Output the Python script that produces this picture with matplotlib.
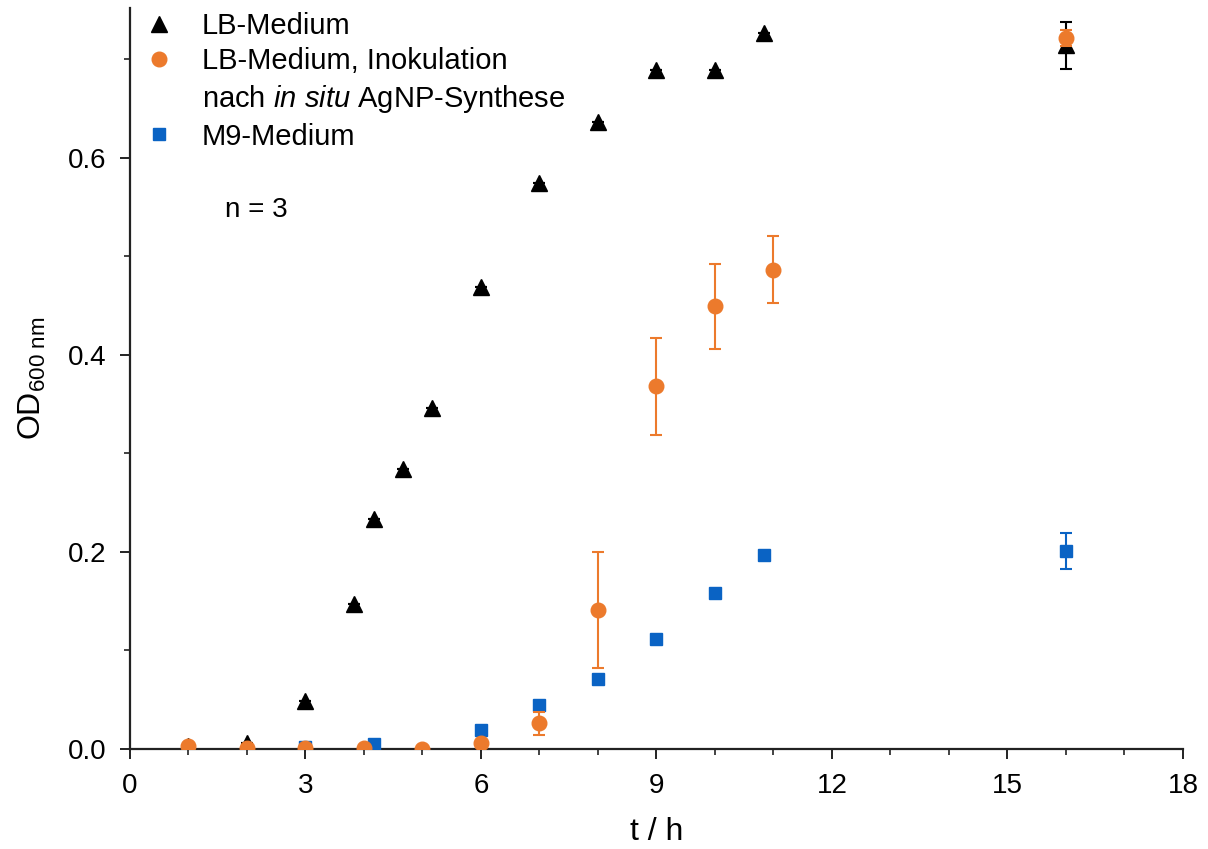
import numpy as np
import matplotlib
matplotlib.use("Agg")
from matplotlib import pyplot as plt
from matplotlib.lines import Line2D
from matplotlib.ticker import MultipleLocator, FormatStrFormatter

plt.rcParams["font.family"] = ["Liberation Sans", "DejaVu Sans"]
plt.rcParams["mathtext.fontset"] = "custom"
plt.rcParams["mathtext.rm"] = "Liberation Sans"
plt.rcParams["mathtext.it"] = "Liberation Sans:italic"

### LB-Medium
lb_t = [1, 2, 3, 3.83, 4.17, 4.67, 5.17, 6, 7, 8, 9, 10, 10.83, 16]
lb_od = [0.003, 0.006, 0.049, 0.147, 0.233, 0.284, 0.346, 0.469, 0.574, 0.636, 0.689, 0.689, 0.726, 0.714]
lb_err = [0, 0, 0, 0, 0, 0, 0, 0, 0, 0, 0, 0, 0, 0.024]

### LB-Medium, inoculation after in situ AgNP synthesis
ag_t = [1, 2, 3, 4, 5, 6, 7, 8, 9, 10, 11, 16]
ag_od = [0.003, 0.001, 0.001, 0.001, 0.0, 0.006, 0.026, 0.141, 0.368, 0.449, 0.486, 0.721]
ag_err = [0, 0, 0, 0, 0, 0.003, 0.012, 0.059, 0.049, 0.043, 0.034, 0.008]

### M9-Medium
m9_t = [3, 4.17, 6, 7, 8, 9, 10, 10.83, 16]
m9_od = [0.002, 0.005, 0.019, 0.045, 0.071, 0.112, 0.158, 0.197, 0.201]
m9_err = [0, 0, 0.002, 0.003, 0.003, 0.003, 0.003, 0.003, 0.018]

orange = "#EC7A2C"
blue = "#0A63C4"

fig = plt.figure(figsize=(12.08, 8.49), dpi=100)
ax = fig.add_axes([0.1076, 0.1178, 0.8717, 0.873])

ax.errorbar(lb_t, lb_od, yerr=lb_err, fmt="^", color="black", ms=11,
            ecolor="black", elinewidth=1.5, capsize=4.5, capthick=1.5, zorder=3)
ax.errorbar(m9_t, m9_od, yerr=m9_err, fmt="s", color=blue, ms=8.5,
            ecolor=blue, elinewidth=1.5, capsize=4.5, capthick=1.5, zorder=4)
ax.errorbar(ag_t, ag_od, yerr=ag_err, fmt="o", color=orange, ms=10.5,
            ecolor=orange, elinewidth=1.5, capsize=4.5, capthick=1.5, zorder=5)

ax.set_xlim(0, 18)
ax.set_ylim(0, 0.752)
ax.xaxis.set_major_locator(MultipleLocator(3))
ax.xaxis.set_minor_locator(MultipleLocator(1))
ax.yaxis.set_major_locator(MultipleLocator(0.2))
ax.yaxis.set_minor_locator(MultipleLocator(0.1))
ax.yaxis.set_major_formatter(FormatStrFormatter("%.1f"))

for side in ["top", "right"]:
    ax.spines[side].set_visible(False)
for side in ["left", "bottom"]:
    ax.spines[side].set_linewidth(1.6)
    ax.spines[side].set_color("#222222")
ax.tick_params(which="major", direction="out", length=7, width=1.4, labelsize=20, pad=10, color="#222222")
ax.tick_params(which="minor", direction="out", length=4, width=1.2, color="#222222")

ax.set_xlabel("t / h", fontsize=23, labelpad=13)
ax.set_ylabel(r"OD$_{600\ \mathrm{nm}}$", fontsize=23, labelpad=14)

### legend, second entry split in two lines
handles = [
    Line2D([], [], ls="none", marker="^", color="black", ms=11),
    Line2D([], [], ls="none", marker="o", color=orange, ms=10.5),
    Line2D([], [], ls="none", marker=""),
    Line2D([], [], ls="none", marker="s", color=blue, ms=8.5),
]
labels = ["LB-Medium", "LB-Medium, Inokulation",
          r"nach $\mathit{in\ situ}$ AgNP-Synthese", "M9-Medium"]
ax.legend(handles, labels, loc="upper left", bbox_to_anchor=(-0.018, 1.03),
          frameon=False, fontsize=21, handletextpad=0.72, labelspacing=0.26,
          handlelength=1.5)

ax.text(0.09, 0.727, "n = 3", transform=ax.transAxes, fontsize=20, va="center")

plt.savefig("out.png", dpi=100)
